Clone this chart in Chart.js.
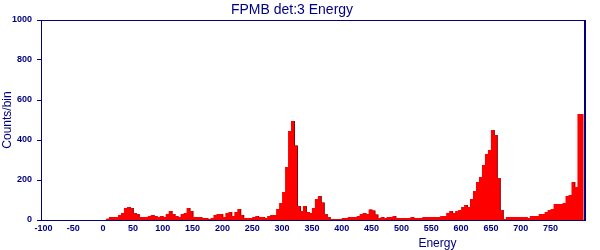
<!DOCTYPE html>
<html lang="en">
<head>
<meta charset="UTF-8">
<title>FPMB det:3 Energy</title>
<script src="https://cdn.jsdelivr.net/npm/chart.js"></script>
<style>
  * { margin: 0; padding: 0; }
  body { background: #fff; width: 600px; height: 250px; overflow: hidden; }
</style>
</head>
<body>
<canvas id="hist" width="600" height="250"></canvas>
<script>
// histogram binning (energy), 5 units per bin starting at -100
const binStart = -100;
const binWidth = 5;

// counts per bin (-100 .. 800)
const counts = [
  0, 0, 0, 0, 0, 0, 0, 0, 0, 0,            // -100 .. -55
  0, 0, 0, 0, 0, 0, 0, 0, 0, 0,            // -50 .. -5
  0, 0,                                    // 0, 5
  6, 15, 15, 15, 25, 35, 60, 65, 60, 35,   // 10 .. 55
  30, 15, 15, 15, 20, 25, 20, 15, 20, 15,  // 60 .. 105
  30, 45, 30, 20, 15, 30, 35, 60, 45, 15,  // 110 .. 155
  15, 15, 10, 10, 5, 10, 25, 30, 30, 15,   // 160 .. 205
  35, 40, 20, 40, 55, 25, 10, 10, 10, 15,  // 210 .. 255
  20, 15, 15, 10, 20, 25, 25, 55, 85, 140, // 260 .. 305
  265, 445, 495, 373, 70, 45, 70, 40, 35, 60, // 310 .. 355
  105, 120, 88, 30, 15, 5, 5, 5, 5, 10,    // 360 .. 405
  10, 15, 15, 15, 20, 30, 35, 30, 52, 48,  // 410 .. 455
  28, 10, 15, 10, 15, 15, 20, 10, 10, 10,  // 460 .. 505
  10, 10, 15, 10, 10, 10, 15, 15, 15, 15,  // 510 .. 555
  15, 15, 20, 20, 35, 45, 35, 45, 50, 65,  // 560 .. 605
  75, 65, 105, 145, 190, 215, 275, 330, 350, 450, // 610 .. 655
  425, 210, 50, 5, 15, 15, 15, 15, 15, 15, // 660 .. 705
  15, 10, 20, 20, 20, 30, 30, 40, 50, 55,  // 710 .. 755
  80, 80, 80, 85, 120, 125, 190, 165, 530  // 760 .. 800
];

const xTicks = [-100, -50, 0, 50, 100, 150, 200, 250, 300, 350, 400, 450, 500, 550, 600, 650, 700, 750];
const yTicks = [0, 200, 400, 600, 800, 1000];

const navy = '#000080';
const tickFont = { family: 'Liberation Sans', size: 9, weight: 'bold' };

// left bin edges, plus closing edge so the last bin gets its width
const points = counts.map((c, i) => ({ x: binStart + i * binWidth, y: c }));
points.push({ x: binStart + counts.length * binWidth, y: counts[counts.length - 1] });

// dark red drop shadow on the right side of falling edges
const shadowPlugin = {
  id: 'histShadow',
  beforeDatasetsDraw(chart) {
    const ctx = chart.ctx;
    ctx.save();
    ctx.shadowColor = '#8a0000';
    ctx.shadowOffsetX = 1;
    ctx.shadowOffsetY = 0;
    ctx.shadowBlur = 0;
  },
  afterDatasetsDraw(chart) {
    chart.ctx.restore();
  }
};

// frame box and axis titles
const framePlugin = {
  id: 'frame',
  afterDraw(chart) {
    const { ctx, chartArea: a } = chart;
    ctx.save();
    ctx.strokeStyle = navy;
    ctx.lineWidth = 1;
    ctx.strokeRect(a.left + 0.5, a.top + 0.5, a.right - a.left, a.bottom - a.top);
    ctx.beginPath();
    ctx.moveTo(a.right + 1.5, a.top);
    ctx.lineTo(a.right + 1.5, a.bottom + 1);
    ctx.stroke();

    ctx.fillStyle = navy;
    ctx.font = '12px "Liberation Sans"';
    ctx.textAlign = 'center';
    ctx.textBaseline = 'middle';
    ctx.fillText('Energy', a.left + (a.right - a.left) * 0.73, 244);

    ctx.translate(8, (a.top + a.bottom) / 2);
    ctx.rotate(-Math.PI / 2);
    ctx.fillText('Counts/bin', 0, 0);
    ctx.restore();
  }
};

new Chart(document.getElementById('hist'), {
  type: 'line',
  data: {
    datasets: [{
      data: points,
      stepped: 'after',
      fill: 'origin',
      backgroundColor: '#ff0000',
      borderColor: 'transparent',
      borderWidth: 1,
      pointRadius: 0
    }]
  },
  options: {
    responsive: false,
    animation: false,
    layout: { padding: { left: 0, right: 16, top: 0, bottom: 0 } },
    plugins: {
      legend: { display: false },
      tooltip: { enabled: false },
      title: {
        display: true,
        text: 'FPMB det:3 Energy',
        color: navy,
        font: { family: 'Liberation Sans', size: 14, weight: 'normal', lineHeight: 1.2 },
        padding: { top: 2, bottom: 1.2 }
      }
    },
    scales: {
      x: {
        type: 'linear',
        min: -104,
        max: 806,
        border: { display: false },
        grid: { display: false, drawTicks: false },
        ticks: { color: navy, font: tickFont, padding: 3, maxRotation: 0, autoSkip: false,
                 callback: v => String(v) },
        afterBuildTicks(scale) { scale.ticks = xTicks.map(v => ({ value: v })); },
        afterFit(scale) { scale.height = 30; }
      },
      y: {
        min: 0,
        max: 1000,
        border: { display: false },
        grid: { drawOnChartArea: false, drawTicks: true, tickLength: 4, color: navy },
        ticks: { color: navy, font: tickFont, padding: 5, callback: v => String(v) },
        afterBuildTicks(scale) { scale.ticks = yTicks.map(v => ({ value: v })); },
        afterFit(scale) { scale.width = 41; }
      }
    }
  },
  plugins: [shadowPlugin, framePlugin]
});
</script>
</body>
</html>
